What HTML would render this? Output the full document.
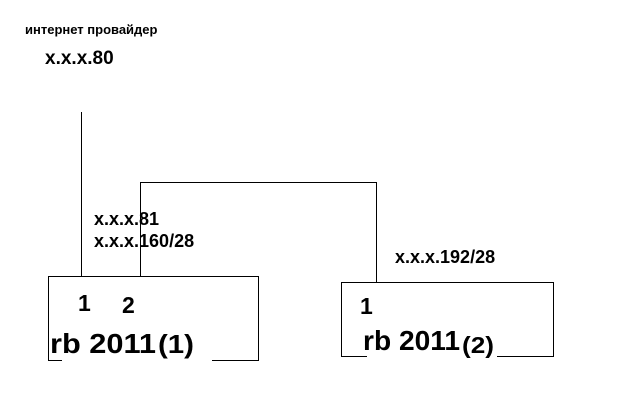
<!DOCTYPE html>
<html><head><meta charset="utf-8"><style>
body{margin:0;background:#fff;}
svg{display:block}
text{font-family:"Liberation Sans","DejaVu Sans",sans-serif;font-weight:bold;fill:#000}
</style></head><body>
<svg width="640" height="400" viewBox="0 0 640 400">
<g stroke="#000" stroke-width="1" fill="none" shape-rendering="crispEdges">
<line x1="81.5" y1="112" x2="81.5" y2="276"/>
<line x1="140.5" y1="182" x2="140.5" y2="276"/>
<line x1="140" y1="182.5" x2="376" y2="182.5"/>
<line x1="376.5" y1="182" x2="376.5" y2="282"/>
<polyline points="62,360.5 48.5,360.5 48.5,276.5 258.5,276.5 258.5,360.5 212,360.5"/>
<polyline points="367,356.5 341.5,356.5 341.5,282.5 553.5,282.5 553.5,356.5 497,356.5"/>
</g>
<text x="25" y="34" style="font-size:13px">интернет провайдер</text>
<text x="45" y="64" style="font-size:19px">x.x.x.80</text>
<text x="94" y="225" style="font-size:18px">x.x.x.81</text>
<text x="94" y="247" style="font-size:18px">x.x.x.160/28</text>
<text x="395" y="263" style="font-size:18px">x.x.x.192/28</text>
<text x="78" y="311" style="font-size:23px">1</text>
<text x="122" y="313" style="font-size:23px">2</text>
<text x="50" y="353" style="font-size:28px" textLength="106" lengthAdjust="spacingAndGlyphs">rb 2011</text>
<text x="158" y="353" style="font-size:26px" textLength="36" lengthAdjust="spacingAndGlyphs">(1)</text>
<text x="360" y="314" style="font-size:23px">1</text>
<text x="363" y="350" style="font-size:28px" textLength="97" lengthAdjust="spacingAndGlyphs">rb 2011</text>
<text x="462" y="353" style="font-size:23px" textLength="32" lengthAdjust="spacingAndGlyphs">(2)</text>
</svg>
</body></html>
